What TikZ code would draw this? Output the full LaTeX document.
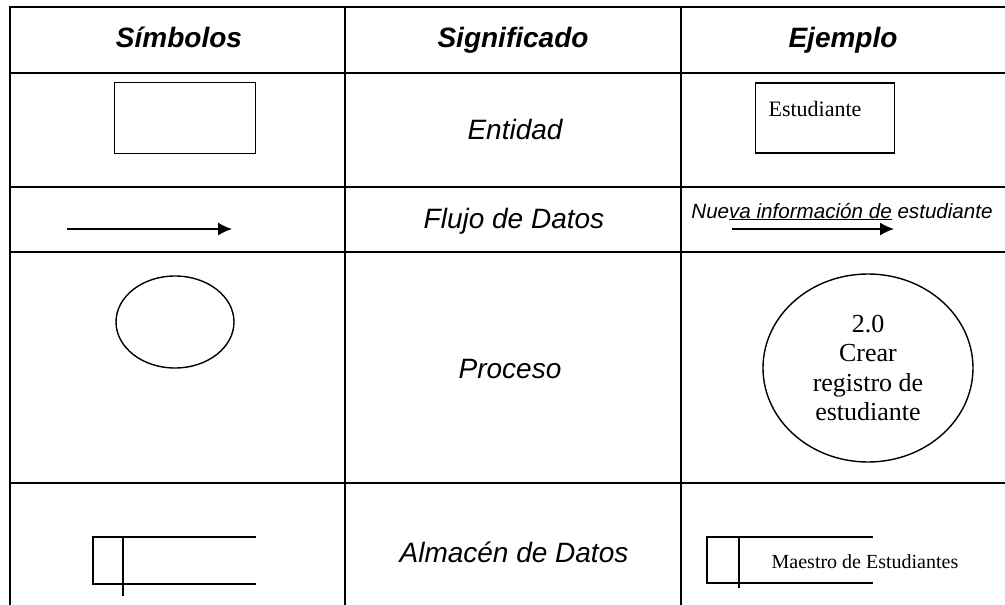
\documentclass[tikz,border=0pt]{standalone}
\usepackage{fontspec}
\setmainfont{Liberation Sans}
\newfontfamily\romanfont{Liberation Serif}
\usetikzlibrary{shapes.geometric, arrows.meta}

\tikzset{
  rowline/.style={line width=1.8pt},
  colline/.style={line width=1.7pt},
  symline/.style={line width=1.4pt},
  head/.style={anchor=base, font=\fontsize{28}{32}\selectfont\bfseries\itshape},
  meaning/.style={anchor=base, font=\fontsize{28}{32}\selectfont\itshape},
  example/.style={font=\romanfont\fontsize{20}{24}\selectfont},
  flow/.style={line width=1.4pt, -{Latex[length=14pt,width=13pt]}}
}

\begin{document}
\begin{tikzpicture}[x=1pt, y=-1pt]
    \useasboundingbox (0,0) rectangle (1005,605);

    % Table
    \foreach \y in {7,73,187,252,483}
        \draw[rowline] (10,\y) -- (1005,\y);
    \foreach \x in {10,345,681}
        \draw[colline] (\x,6) -- (\x,605);

    % Header
    \node[head] (hsym) at (179,47) {Símbolos};
    \node[head] (hsig) at (513,47) {Significado};
    \node[head] (hej) at (843,47) {Ejemplo};

    % Entidad
    \node[draw, symline, minimum width=141pt, minimum height=71pt] (ent) at (185,118) {};
    \node[meaning] (sigent) at (515,139) {Entidad};
    \node[draw, symline, minimum width=139pt, minimum height=70pt] (exent) at (825,118) {};
    \node[example, font=\romanfont\fontsize{22}{26}\selectfont] (estud) at (815,109) {Estudiante};

    % Flujo de Datos
    \coordinate (fs) at (67,229);
    \coordinate (fe) at (232,229);
    \draw[flow] (fs) -- (fe);
    \node[meaning] (sigflu) at (514,228) {Flujo de Datos};
    \node[anchor=base, font=\fontsize{20.6}{24}\selectfont\itshape] (exflu) at (842,218)
        {Nue\underline{va información de} estudiante};
    \coordinate (xs) at (732,229);
    \coordinate (xe) at (894,229);
    \draw[flow] (xs) -- (xe);

    % Proceso
    \node[draw, symline, ellipse, minimum width=118pt, minimum height=92pt] (proc) at (175,322) {};
    \node[meaning] (sigpro) at (510,378) {Proceso};
    \node[draw, symline, ellipse, minimum width=210pt, minimum height=188pt, align=center,
          font=\romanfont\fontsize{26}{29.5}\selectfont] (expro) at (868,368)
        {2.0\\Crear\\registro de\\estudiante};

    % Almacen de Datos
    \draw[symline] (256,537) -- (93,537) -- (93,584) -- (256,584);
    \draw[symline] (123,537) -- (123,596);
    \node[meaning] (sigalm) at (514,562) {Almacén de Datos};
    \draw[symline] (873,537) -- (707,537) -- (707,583) -- (873,583);
    \draw[symline] (739,537) -- (739,588);
    \node[anchor=base, example] (maestro) at (865,568) {Maestro de Estudiantes};

\end{tikzpicture}
\end{document}
